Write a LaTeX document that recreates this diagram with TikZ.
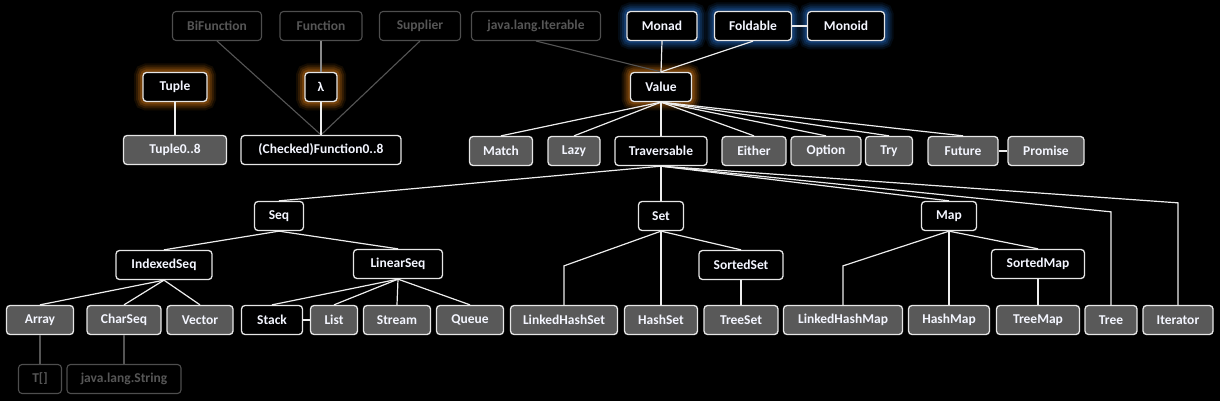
\documentclass[tikz,border=0pt]{standalone}
\usepackage{fontspec}
\setmainfont{Carlito}
\usetikzlibrary{positioning}
\definecolor{bgc}{HTML}{000000}
\definecolor{grayfill}{HTML}{595959}
\definecolor{boxborder}{HTML}{E6E6E6}
\definecolor{txtc}{HTML}{F4F6FF}
\definecolor{fadec}{HTML}{4E4E4E}
\definecolor{fadetxt}{HTML}{565656}
\definecolor{glowor}{HTML}{B4640F}
\definecolor{glowbl}{HTML}{1E5CA8}
\definecolor{linec}{HTML}{EDEDED}
\definecolor{fadeline}{HTML}{555555}
\definecolor{midline}{HTML}{8A8A8A}
\tikzset{
  base/.style={rectangle, rounded corners=3.5pt, line width=1.3pt, inner sep=0pt,
    minimum height=29pt, font=\fontsize{13.5}{14}\selectfont\bfseries, text=txtc},
  blkbox/.style={base, draw=boxborder, fill=black},
  graybox/.style={base, draw=boxborder, fill=grayfill},
  fadebox/.style={base, draw=fadec, fill=black, text=fadetxt, line width=1.1pt},
  glowo/.style={preaction={draw=glowor, line width=18pt, opacity=0.12, rounded corners=8pt},
                preaction={draw=glowor, line width=14pt, opacity=0.18, rounded corners=7pt},
                preaction={draw=glowor, line width=10pt, opacity=0.25, rounded corners=5pt},
                preaction={draw=glowor, line width=6pt, opacity=0.35}},
  glowb/.style={preaction={draw=glowbl, line width=18pt, opacity=0.12, rounded corners=8pt},
                preaction={draw=glowbl, line width=14pt, opacity=0.18, rounded corners=7pt},
                preaction={draw=glowbl, line width=10pt, opacity=0.25, rounded corners=5pt},
                preaction={draw=glowbl, line width=6pt, opacity=0.35}},
  conn/.style={draw=linec, line width=1.2pt},
  fconn/.style={draw=fadeline, line width=1.1pt},
  mconn/.style={draw=midline, line width=1.1pt},
}
\begin{document}
\begin{tikzpicture}[x=1pt,y=-1pt]
\fill[bgc] (0,0) rectangle (1220,401);
\useasboundingbox (0,0) rectangle (1220,401);
% faded nodes
\node[fadebox, minimum width=89] (bif) at (217,26) {BiFunction};
\node[fadebox, minimum width=82] (fun) at (321,26) {Function};
\node[fadebox, minimum width=81] (sup) at (420,26) {Supplier};
\node[fadebox, minimum width=129] (jit) at (536,26) {java.lang.Iterable};
\node[fadebox, minimum width=43] (tarr) at (40,379) {T[]};
\node[fadebox, minimum width=114] (jstr) at (124,379) {java.lang.String};
% glowing nodes
\node[blkbox, glowb, minimum width=70] (monad) at (662,26) {Monad};
\node[blkbox, glowb, minimum width=77] (fold) at (753,26) {Foldable};
\node[blkbox, glowb, minimum width=77] (monoid) at (846,26) {Monoid};
\node[blkbox, glowo, minimum width=64] (tuple) at (175,87) {Tuple};
\node[blkbox, glowo, minimum width=32] (lambda) at (321,87) {λ};
\node[blkbox, glowo, minimum width=61] (value) at (661,87) {Value};
% black nodes
\node[blkbox, minimum width=160] (cfun) at (321,150) {(Checked)Function0..8};
\node[blkbox, minimum width=92] (trav) at (661,151) {Traversable};
\node[blkbox, minimum width=49] (seq) at (279,216) {Seq};
\node[blkbox, minimum width=45] (set) at (661,216) {Set};
\node[blkbox, minimum width=55] (map) at (949,216) {Map};
\node[blkbox, minimum width=96] (iseq) at (164,265) {IndexedSeq};
\node[blkbox, minimum width=89] (lseq) at (398,264) {LinearSeq};
\node[blkbox, minimum width=84] (sset) at (741,265) {SortedSet};
\node[blkbox, minimum width=93] (smap) at (1038,264) {SortedMap};
\node[blkbox, minimum width=61] (stack) at (272,320) {Stack};
% gray nodes
\node[graybox, minimum width=103] (tup8) at (175,150) {Tuple0..8};
\node[graybox, minimum width=63] (match) at (501,151) {Match};
\node[graybox, minimum width=52] (lazy) at (574,151) {Lazy};
\node[graybox, minimum width=64] (either) at (754,151) {Either};
\node[graybox, minimum width=70] (option) at (826,151) {Option};
\node[graybox, minimum width=47] (try) at (889,151) {Try};
\node[graybox, minimum width=70] (future) at (963,151) {Future};
\node[graybox, minimum width=76] (promise) at (1046,151) {Promise};
\node[graybox, minimum width=67] (array) at (40,320) {Array};
\node[graybox, minimum width=74] (charseq) at (124,320) {CharSeq};
\node[graybox, minimum width=66] (vector) at (200,320) {Vector};
\node[graybox, minimum width=47] (list) at (334,320) {List};
\node[graybox, minimum width=67] (stream) at (397,320) {Stream};
\node[graybox, minimum width=67] (queue) at (470,320) {Queue};
\node[graybox, minimum width=107] (lhset) at (564,320) {LinkedHashSet};
\node[graybox, minimum width=73] (hset) at (661,320) {HashSet};
\node[graybox, minimum width=74] (tset) at (741,320) {TreeSet};
\node[graybox, minimum width=119] (lhmap) at (843,320) {LinkedHashMap};
\node[graybox, minimum width=81] (hmap) at (949,320) {HashMap};
\node[graybox, minimum width=83] (tmap) at (1038,320) {TreeMap};
\node[graybox, minimum width=52] (tree) at (1111,320) {Tree};
\node[graybox, minimum width=70] (iterator) at (1178,320) {Iterator};
% faded connectors
\draw[fconn] (bif.south) -- (cfun.north);
\draw[fconn] (sup.south) -- (cfun.north);
\draw[fconn] (jit.south) -- (value.north);
\draw[mconn] (fun.south) -- (lambda.north);
\draw[fconn] (array.south) -- (tarr.north);
\draw[fconn] (charseq.south) -- (jstr.north);
% connectors
\draw[conn] (lambda.south) -- (cfun.north);
\draw[conn] (tuple.south) -- (tup8.north);
\draw[conn] (monad.south) -- (value.north);
\draw[conn] (fold.south) -- (value.north);
\draw[conn] (fold.east) -- (monoid.west);
\foreach \t in {match,lazy,trav,either,option,try,future}
  \draw[conn] (value.south) -- (\t.north);
\draw[conn] (future.east) -- (promise.west);
\draw[conn] (trav.south) -- (seq.north);
\draw[conn] (trav.south) -- (set.north);
\draw[conn] (trav.south) -- (map.north);
\draw[conn] (trav.south) -- ([yshift=93pt]tree.north) -- (tree.north);
\draw[conn] (trav.south) -- ([yshift=102pt]iterator.north) -- (iterator.north);
\draw[conn] (seq.south) -- (iseq.north);
\draw[conn] (seq.south) -- (lseq.north);
\foreach \t in {array,charseq,vector}
  \draw[conn] (iseq.south) -- (\t.north);
\foreach \t in {stack,list,stream,queue}
  \draw[conn] (lseq.south) -- (\t.north);
\draw[conn] (stack.east) -- (list.west);
\draw[conn] (set.south) -- ([yshift=39pt]lhset.north) -- (lhset.north);
\draw[conn] (set.south) -- (hset.north);
\draw[conn] (set.south) -- (sset.north);
\draw[conn] (sset.south) -- (tset.north);
\draw[conn] (map.south) -- ([yshift=39pt]lhmap.north) -- (lhmap.north);
\draw[conn] (map.south) -- (hmap.north);
\draw[conn] (map.south) -- (smap.north);
\draw[conn] (smap.south) -- (tmap.north);
\end{tikzpicture}
\end{document}
